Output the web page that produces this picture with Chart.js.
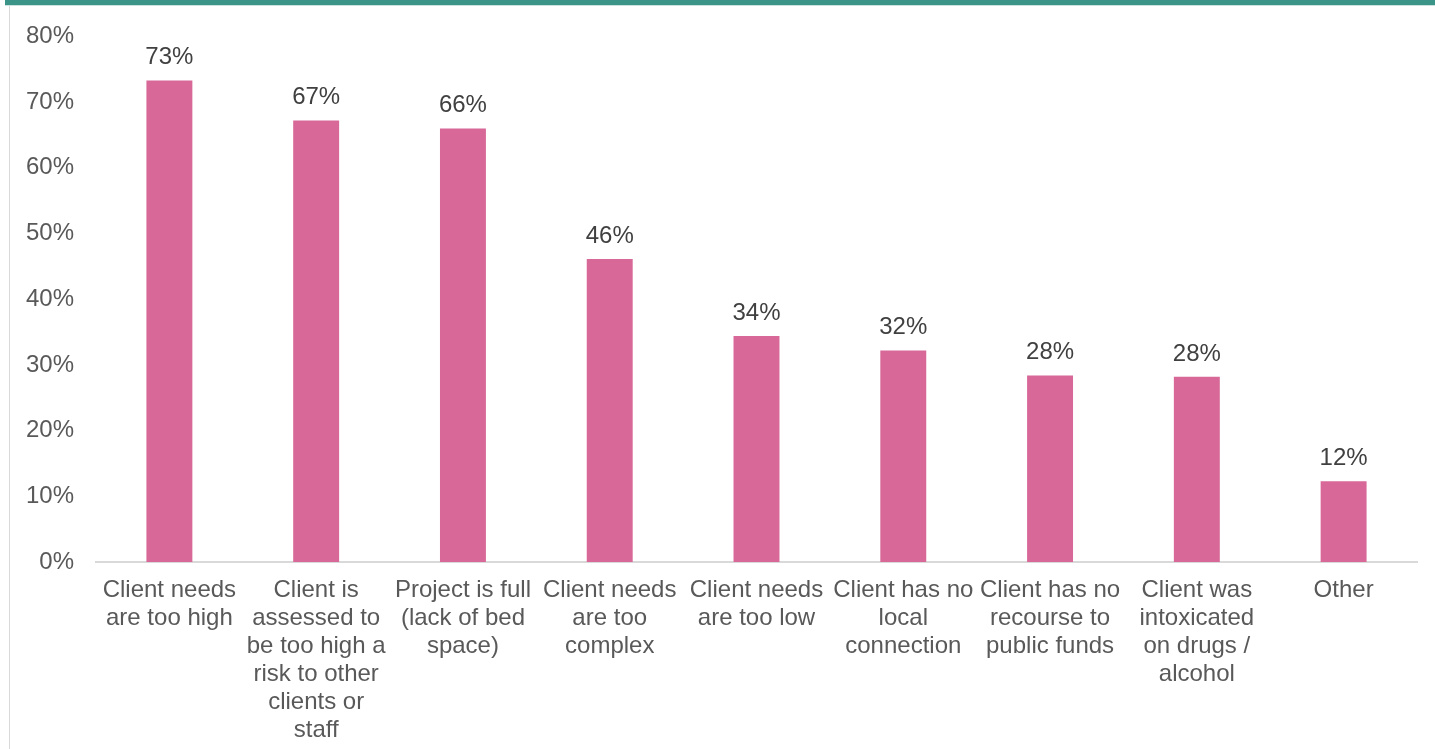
<!DOCTYPE html>
<html>
<head>
<meta charset="utf-8">
<script src="https://cdn.jsdelivr.net/npm/chart.js@4"></script>
<style>
  html, body { margin: 0; padding: 0; background: #fff; }
  #wrap { position: relative; width: 1435px; height: 749px; overflow: hidden; }
  .band { position: absolute; left: 5px; top: 0; width: 1430px; height: 5px; background: #3c9488; }
  .band-edge { position: absolute; left: 5px; top: 5px; width: 1430px; height: 1px; background: #cde2de; }
  .frame { position: absolute; left: 9px; top: 6px; width: 1px; height: 743px; background: #d9d9d9; }
  canvas { position: absolute; left: 0; top: 0; }
</style>
</head>
<body>
<div id="wrap">
  <div class="band"></div>
  <div class="band-edge"></div>
  <div class="frame"></div>
  <canvas id="reasonsChart" width="1435" height="749"></canvas>
</div>
<script>
  // reasons a referral was turned down, share of respondents (%)
  const categories = [
    ['Client needs', 'are too high'],
    ['Client is', 'assessed to', 'be too high a', 'risk to other', 'clients or', 'staff'],
    ['Project is full', '(lack of bed', 'space)'],
    ['Client needs', 'are too', 'complex'],
    ['Client needs', 'are too low'],
    ['Client has no', 'local', 'connection'],
    ['Client has no', 'recourse to', 'public funds'],
    ['Client was', 'intoxicated', 'on drugs /', 'alcohol'],
    ['Other']
  ];
  const shares = [73.3, 67.2, 66.0, 46.1, 34.4, 32.2, 28.4, 28.2, 12.3];
  const yTicks = [0, 10, 20, 30, 40, 50, 60, 70, 80];

  const FONT = 'Liberation Sans, Arial, sans-serif';

  // prints the rounded share above each bar
  const valueLabels = {
    id: 'valueLabels',
    afterDatasetsDraw(chart) {
      const ctx = chart.ctx;
      const meta = chart.getDatasetMeta(0);
      ctx.save();
      ctx.font = '24px ' + FONT;
      ctx.fillStyle = '#404040';
      ctx.textAlign = 'center';
      ctx.textBaseline = 'alphabetic';
      meta.data.forEach((bar, i) => {
        ctx.fillText(Math.round(shares[i]) + '%', bar.x, bar.y - 16);
      });
      ctx.restore();
    }
  };

  const ctx = document.getElementById('reasonsChart').getContext('2d');
  new Chart(ctx, {
    type: 'bar',
    data: {
      labels: categories,
      datasets: [{
        data: shares,
        backgroundColor: '#d86898',
        categoryPercentage: 1,
        barPercentage: 0.313
      }]
    },
    options: {
      responsive: false,
      animation: false,
      layout: { padding: { top: 35, right: 18, bottom: 0, left: 0 } },
      plugins: {
        legend: { display: false },
        tooltip: { enabled: false }
      },
      scales: {
        x: {
          grid: { display: false, drawTicks: false },
          border: { display: true, color: '#d9d9d9', width: 2 },
          ticks: {
            color: '#595959',
            padding: 14,
            maxRotation: 0,
            autoSkip: false,
            font: { family: FONT, size: 24, lineHeight: 1.167 }
          },
          afterFit(scale) { scale.height = 187; }
        },
        y: {
          min: 0,
          max: 80,
          afterBuildTicks(scale) { scale.ticks = yTicks.map(v => ({ value: v })); },
          grid: { display: false, drawTicks: false },
          border: { display: false },
          ticks: {
            color: '#595959',
            padding: 22,
            font: { family: FONT, size: 24 },
            callback: v => v + '%'
          },
          afterFit(scale) { scale.width = 96; }
        }
      }
    },
    plugins: [valueLabels]
  });
</script>
</body>
</html>
